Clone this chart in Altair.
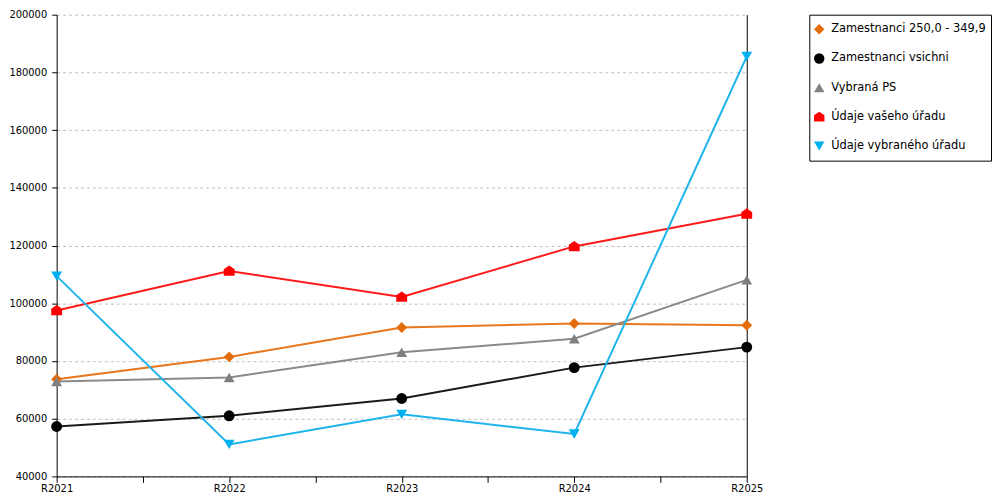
import altair as alt
import pandas as pd

years = ["R2021", "R2022", "R2023", "R2024", "R2025"]
series_names = [
    "Zamestnanci 250,0 - 349,9",
    "Zamestnanci vsichni",
    "Vybraná PS",
    "Údaje vašeho úřadu",
    "Údaje vybraného úřadu",
]
zam_250 = [73700, 81400, 91600, 93000, 92400]
zam_all = [57300, 61000, 67000, 77700, 84800]
vybrana_ps = [72900, 74300, 83000, 87700, 108100]
vas_urad = [97500, 111200, 102200, 119700, 131000]
vybrany_urad = [109400, 51100, 61500, 54700, 185500]
y_ticks = [40000, 60000, 80000, 100000, 120000, 140000, 160000, 180000, 200000]

line_colors = ["#E8771E", "#1A1A1A", "#8A8A8A", "#FF1A1A", "#1FB4EC"]
marker_colors = ["#E46C0A", "#000000", "#808080", "#FF0000", "#00B0F0"]
house = "M0,-1L1,-0.3L1,0.9L-1,0.9L-1,-0.3Z"
shapes = ["diamond", "circle", "triangle-up", house, "triangle-down"]

all_values = [zam_250, zam_all, vybrana_ps, vas_urad, vybrany_urad]
rows = []
for s, vals in zip(series_names, all_values):
    for i, (yr, v) in enumerate(zip(years, vals)):
        rows.append({"series": s, "idx": i, "year": yr, "value": v})
df = pd.DataFrame(rows)
legend_df = pd.DataFrame({"series": series_names})

FONT = "DejaVu Sans"
label_arr = "[" + ",".join("'" + y + "'" for y in years) + "]"
x_vals = [i * 0.5 for i in range(2 * (len(years) - 1) + 1)]

color_scale = alt.Scale(domain=series_names, range=marker_colors)
shape_scale = alt.Scale(domain=series_names, range=shapes)

x_enc = alt.X(
    "idx:Q",
    scale=alt.Scale(domain=[0, len(years) - 1], nice=False, zero=False),
    axis=alt.Axis(
        values=x_vals,
        labelExpr=f"datum.value % 1 == 0 ? {label_arr}[datum.value] : ''",
        title=None,
        grid=False,
        tickSize=6,
        tickColor="black",
        domainColor="black",
        labelColor="black",
        labelFont=FONT,
        labelFontSize=10,
        labelPadding=1,
        labelFlush=False,
        labelOverlap=False,
    ),
)

y_scale = alt.Scale(domain=[40000, 200000], nice=False, zero=False)

lines = alt.Chart(df).mark_line(strokeWidth=2).encode(
    x=x_enc,
    y=alt.Y(
        "value:Q",
        scale=y_scale,
        axis=alt.Axis(
            values=y_ticks,
            title=None,
            format="d",
            grid=True,
            gridColor="#BFBFBF",
            gridDash=[3, 3],
            gridWidth=1,
            tickSize=5,
            tickColor="black",
            domainColor="black",
            labelColor="black",
            labelFont=FONT,
            labelFontSize=10,
            labelPadding=5,
        ),
    ),
    stroke=alt.Stroke(
        "series:N",
        scale=alt.Scale(domain=series_names, range=line_colors),
        legend=None,
    ),
    detail="series:N",
)

points = alt.Chart(df).mark_point(filled=True, size=120, opacity=1).encode(
    x=x_enc,
    y=alt.Y(
        "value:Q",
        scale=y_scale,
        axis=alt.Axis(
            orient="right",
            labels=False,
            ticks=False,
            grid=False,
            title=None,
            domainColor="black",
        ),
    ),
    color=alt.Color("series:N", scale=color_scale, legend=None),
    shape=alt.Shape("series:N", scale=shape_scale, legend=None),
)

main = (
    alt.layer(lines, points)
    .resolve_axis(y="independent")
    .properties(width=695, height=465)
)

# legend panel drawn from the series list
leg_y = alt.Y(
    "series:N",
    sort=series_names,
    axis=None,
    scale=alt.Scale(type="point", padding=0.5),
)
leg_points = alt.Chart(legend_df).mark_point(filled=True, size=110, opacity=1).encode(
    x=alt.value(10),
    y=leg_y,
    color=alt.Color("series:N", scale=color_scale, legend=None),
    shape=alt.Shape("series:N", scale=shape_scale, legend=None),
)
leg_text = alt.Chart(legend_df).mark_text(
    align="left", baseline="middle", font=FONT, fontSize=11.5, color="black"
).encode(
    x=alt.value(22),
    y=leg_y,
    text="series:N",
)
legend_panel = alt.layer(leg_points, leg_text).properties(
    width=183,
    height=147,
    view=alt.ViewBackground(stroke="black", strokeWidth=1, fill="white"),
)

chart = (
    alt.hconcat(main, legend_panel, spacing=45)
    .properties(padding={"left": 0, "top": 0, "right": 0, "bottom": 0})
    .configure_view(stroke=None)
)

chart.save("out.html", embed_options={"renderer": "svg", "actions": False})
